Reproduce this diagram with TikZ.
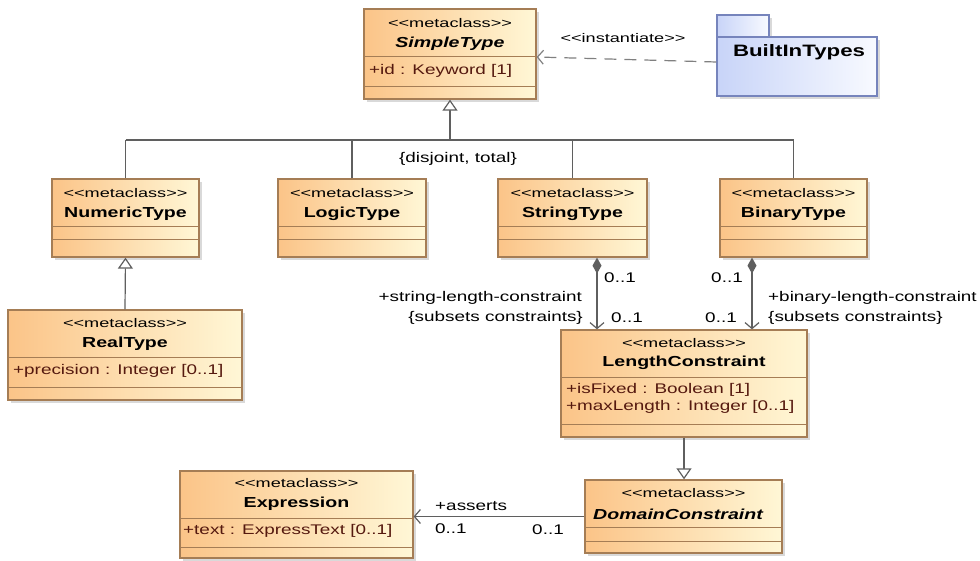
\documentclass[tikz,border=0pt]{standalone}
\usepackage{fontspec}
\setmainfont{Liberation Sans}[FakeStretch=1.35]
\newfontfamily\stereofont{Liberation Sans}[FakeStretch=1.45]
\usetikzlibrary{arrows.meta,shadows}

\definecolor{mOrange}{RGB}{251,196,136}
\definecolor{mCream}{RGB}{255,247,214}
\definecolor{mBorder}{RGB}{165,125,85}
\definecolor{mAttr}{RGB}{85,25,15}
\definecolor{pBlue}{RGB}{200,212,248}
\definecolor{pWhite}{RGB}{248,250,255}
\definecolor{pBorder}{RGB}{118,132,188}
\definecolor{conn}{RGB}{95,95,95}

\begin{document}
\begin{tikzpicture}[x=1pt, y=-1pt,
  mbox/.style={draw=mBorder, line width=1.3pt, left color=mOrange, right color=mCream, inner sep=0pt,
    drop shadow={shadow xshift=3pt, shadow yshift=-3pt, opacity=0.3}},
  pbox/.style={draw=pBorder, line width=1.3pt, left color=pBlue, right color=pWhite, inner sep=0pt,
    drop shadow={shadow xshift=3pt, shadow yshift=-3pt, opacity=0.3}},
  msep/.style={draw=mBorder, line width=1pt},
  stereo/.style={inner sep=0pt, font=\stereofont\fontsize{12.5}{14}\selectfont},
  mname/.style={inner sep=0pt, font=\fontsize{14.5}{16}\selectfont\bfseries},
  attr/.style={inner sep=0pt, anchor=west, align=left, text=mAttr, font=\fontsize{14}{17}\selectfont},
  lbl/.style={inner sep=0pt, font=\fontsize{14}{17}\selectfont},
  link/.style={draw=conn, line width=1.2pt},
  gen/.style={link, -{Triangle[open, length=11pt, width=15pt, fill=white]}},
  nav/.style={link, -{Straight Barb[length=6pt, width=14pt]}},
]
\useasboundingbox (0,0) rectangle (980,561);

% class boxes
\node[mbox, minimum width=172pt, minimum height=90pt] (simple) at (450,54) {};
\node[mbox, minimum width=147pt, minimum height=78pt] (numeric) at (125.5,218) {};
\node[mbox, minimum width=148pt, minimum height=78pt] (logic) at (352,218) {};
\node[mbox, minimum width=149pt, minimum height=78pt] (string) at (572.5,218) {};
\node[mbox, minimum width=147pt, minimum height=78pt] (binary) at (793.5,218) {};
\node[mbox, minimum width=234pt, minimum height=90pt] (real) at (125,355) {};
\node[mbox, minimum width=246pt, minimum height=107pt] (lc) at (684,383.5) {};
\node[mbox, minimum width=233pt, minimum height=87pt] (expr) at (296.5,514.5) {};
\node[mbox, minimum width=197pt, minimum height=73pt] (dc) at (683.5,516.5) {};

% package
\node[pbox, minimum width=52pt, minimum height=22pt] (bittab) at (743,26) {};
\node[pbox, minimum width=160pt, minimum height=59pt] (bit) at (797,66.5) {};
\node[inner sep=0pt, font=\fontsize{16.5}{18}\selectfont\bfseries] (bitname) at (799,52) {BuiltInTypes};

% compartments
\foreach \n/\y in {simple/57, simple/87, numeric/227, numeric/240, logic/227, logic/240,
    string/227, string/240, binary/227, binary/240, real/357, real/387,
    lc/377, lc/424, expr/518, expr/547, dc/527, dc/541}
  \draw[msep] (\n.west |- 0,\y) -- (\n.east |- 0,\y);

% stereotypes and names
\foreach \n/\x/\y in {simple/450/23, numeric/125.5/193, logic/352/193, string/572.5/193,
    binary/793.5/193, real/125/323, lc/684/343, expr/296.5/483, dc/683.5/493}
  \node[stereo] (\n-st) at (\x,\y) {<{}<metaclass>{}>};
\node[mname, font=\fontsize{14.5}{16}\selectfont\bfseries\itshape] (simple-nm) at (450,44) {SimpleType};
\node[mname] (numeric-nm) at (125.5,214) {NumericType};
\node[mname] (logic-nm) at (352,214) {LogicType};
\node[mname] (string-nm) at (572.5,214) {StringType};
\node[mname] (binary-nm) at (793.5,214) {BinaryType};
\node[mname] (real-nm) at (125,344) {RealType};
\node[mname] (lc-nm) at (684,363) {LengthConstraint};
\node[mname] (expr-nm) at (296.5,504) {Expression};
\node[mname, font=\fontsize{14.5}{16}\selectfont\bfseries\itshape] (dc-nm) at (678,514) {DomainConstraint};

% attributes
\node[attr] (simple-at) at (369,71) {+id : Keyword [1]};
\node[attr] (real-at) at (13,371) {+precision : Integer [0..1]};
\node[attr] (lc-at) at (566,398.5) {+isFixed : Boolean [1]\\+maxLength : Integer [0..1]};
\node[attr] (expr-at) at (183,531) {+text : ExpressText [0..1]};

% instantiate
\draw[nav, draw=gray, dash pattern=on 12pt off 8pt] (bit.west |- 0,62) -- (simple.east |- 0,57);
\node[stereo] (inst) at (623,38) {<{}<instantiate>{}>};

% generalization set
\coordinate (bus) at (450,140);
\draw[gen] (bus) -- (simple.south);
\draw[link] (numeric.north |- bus) -- (binary.north |- bus);
\foreach \n in {numeric,logic,string,binary}
  \draw[link] (\n.north) -- (\n.north |- bus);
\node[lbl] (disj) at (458,159) {\{disjoint, total\}};
\draw[gen] (real.north) -- (numeric.south);

% length constraints
\coordinate (strend) at ([xshift=24.5pt]string.south);
\coordinate (binend) at ([xshift=-41.5pt]binary.south);
\draw[link, {Diamond[length=16pt, width=9pt]}-{Straight Barb[length=6pt, width=14pt]}] (strend) -- (strend |- lc.north);
\draw[link, {Diamond[length=16pt, width=9pt]}-{Straight Barb[length=6pt, width=14pt]}] (binend) -- (binend |- lc.north);
\node[lbl, anchor=east] (strrole) at (582,298) {+string-length-constraint};
\node[lbl, anchor=east] (strsub) at (583,318) {\{subsets constraints\}};
\node[lbl] (strm1) at (620,278) {0..1};
\node[lbl] (strm2) at (627,318) {0..1};
\node[lbl] (binm1) at (727,278) {0..1};
\node[lbl] (binm2) at (721,318) {0..1};
\node[lbl, anchor=west] (binrole) at (768,298) {+binary-length-constraint};
\node[lbl, anchor=west] (binsub) at (768,318) {\{subsets constraints\}};

% domain constraint
\draw[gen] (lc.south) -- (lc.south |- dc.north);
\draw[nav] (dc.west) -- (dc.west -| expr.east);
\node[lbl, anchor=west] (asserts) at (435,506) {+asserts};
\node[lbl, anchor=west] (asm1) at (435,529) {0..1};
\node[lbl] (asm2) at (548,530) {0..1};
\end{tikzpicture}
\end{document}
